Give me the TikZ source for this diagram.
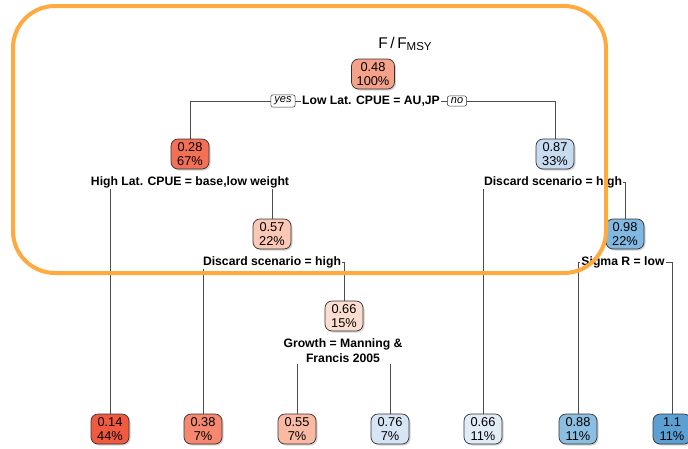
\documentclass[tikz,border=0pt]{standalone}
\usepackage{fontspec}
\setmainfont{Liberation Sans}
\usetikzlibrary{shadows,backgrounds}
\definecolor{r48}{RGB}{246,162,138}
\definecolor{r28}{RGB}{243,112,85}
\definecolor{r14}{RGB}{240,90,64}
\definecolor{r38}{RGB}{245,136,110}
\definecolor{r55}{RGB}{249,185,162}
\definecolor{r57}{RGB}{250,200,180}
\definecolor{r66}{RGB}{252,222,208}
\definecolor{b76}{RGB}{214,229,245}
\definecolor{b66}{RGB}{226,236,247}
\definecolor{b87}{RGB}{199,220,241}
\definecolor{b88}{RGB}{140,190,226}
\definecolor{b98}{RGB}{128,184,226}
\definecolor{b11}{RGB}{92,160,211}
\definecolor{hl}{RGB}{255,170,62}
\begin{document}
\begin{tikzpicture}[x=1pt,y=-1pt,
    p/.style={draw=black!80,line width=0.7pt,rounded corners=7pt,align=center,
      minimum width=38pt,minimum height=30pt,inner sep=1.5pt,
      font=\fontsize{12.8}{14.5}\selectfont,
      drop shadow={shadow xshift=1.5pt,shadow yshift=-1.5pt,opacity=0.35}},
    sp/.style={fill=white,inner sep=1pt,align=center,
      font=\fontsize{12.2}{15}\selectfont\bfseries},
    yn/.style={draw=black!80,fill=white,rounded corners=2pt,line width=0.5pt,
      inner xsep=3.5pt,inner ysep=2pt,font=\fontsize{11}{12}\selectfont\itshape},
    e/.style={draw=black!70,line width=0.7pt}]
  \useasboundingbox (0,0) rectangle (688,448);
  \node (t) at (405,44) {\fontsize{15.5}{17}\selectfont F\,/\,F\raisebox{-0.35ex}{\fontsize{11.5}{12}\selectfont MSY}};
  % inner nodes
  \node[p,fill=r48,minimum width=43pt] (1) at (373,74) {0.48\\100\%};
  \node[sp] (s1) at (371,101) {Low Lat. CPUE = AU,JP};
  \node[yn] (yes) at (283,101) {yes};
  \node[yn] (no) at (457,101) {no};
  \node[p,fill=r28] (2) at (190,154) {0.28\\67\%};
  \node[sp] (s2) at (190,182) {High Lat. CPUE = base,low weight};
  \node[p,fill=b87] (3) at (555,154) {0.87\\33\%};
  \node[sp] (s3) at (553,182) {Discard scenario = high};
  \node[p,fill=r57] (5) at (272,234) {0.57\\22\%};
  \node[sp] (s5) at (272,262) {Discard scenario = high};
  \node[p,fill=b98] (7) at (625,234) {0.98\\22\%};
  \node[sp] (s7) at (623,262) {Sigma R = low};
  \node[p,fill=r66] (11) at (344,316) {0.66\\15\%};
  \node[sp] (s11) at (343,351) {Growth = Manning \&\\Francis 2005};
  % leaves
  \node[p,fill=r14] (4) at (110,429) {0.14\\44\%};
  \node[p,fill=r38] (10) at (203,429) {0.38\\7\%};
  \node[p,fill=r55] (22) at (297,429) {0.55\\7\%};
  \node[p,fill=b76] (23) at (390,429) {0.76\\7\%};
  \node[p,fill=b66] (6) at (483,429) {0.66\\11\%};
  \node[p,fill=b88] (14) at (578,429) {0.88\\11\%};
  \node[p,fill=b11] (15) at (672,429) {1.1\\11\%};
  % branches
  \begin{scope}[on background layer]
    \draw[e] (2.north) -- (2 |- s1) -- (3 |- s1) -- (3.north);
    \draw[e] (4.north) -- (4 |- s2) -- (5 |- s2) -- (5.north);
    \draw[e] (6.north) -- (6 |- s3) -- (7 |- s3) -- (7.north);
    \draw[e] (10.north) -- (10 |- s5) -- (11 |- s5) -- (11.north);
    \draw[e] (14.north) -- (14 |- s7) -- (15 |- s7) -- (15.north);
    \draw[e] (22.north) -- (22 |- s11) -- (23 |- s11) -- (23.north);
  \end{scope}
  % highlight
  \draw[hl,line width=4pt,rounded corners=42pt] (13,6) rectangle (606,273);
\end{tikzpicture}
\end{document}
